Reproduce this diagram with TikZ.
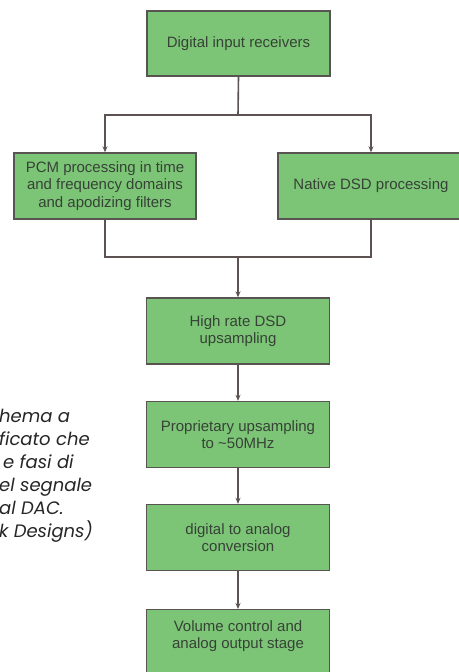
\documentclass[tikz,border=0pt]{standalone}
\usepackage{fontspec}
\setmainfont{Liberation Sans}
\newfontfamily\capfont{Poppins}
\usepackage{xcolor}
\definecolor{boxgreen}{RGB}{124,197,118}
\definecolor{boxedge}{RGB}{88,84,82}
\definecolor{boxtext}{RGB}{55,66,55}
\definecolor{linegray}{RGB}{92,82,82}
\usetikzlibrary{arrows.meta}

\begin{document}
\begin{tikzpicture}[x=1pt, y=-1pt,
  block/.style={draw=boxedge, line width=1.4pt, fill=boxgreen, text=boxtext,
    font=\fontsize{15}{17.5}\selectfont, align=center,
    minimum width=183, minimum height=66, inner sep=0pt},
  arr/.style={draw=linegray, line width=1.6pt, -{Stealth[length=6pt,width=5pt]}},
  wire/.style={draw=linegray, line width=1.6pt}]

% Page frame, same size as the scan
\useasboundingbox[fill=white] (0,0) rectangle (458,672);

% Input stage and the two processing paths
\node[block, minimum height=65] (recv) at (238.5,43.5) {Digital input receivers};
\node[block, minimum width=182] (pcm) at (105,186)
  {PCM processing in time\\and frequency domains\\and apodizing filters};
\node[block, minimum width=186] (dsd) at (371,186) {Native DSD processing};

% Step 1: the vertical chain below the merge
\foreach \name/\ypos/\txt in {
    hrate/331/{High rate DSD\\upsampling},
    prop/434.5/{Proprietary upsampling\\to \textasciitilde50MHz},
    dac/537.5/{digital to analog\\conversion}} {
  \node[block] (\name) at (238,\ypos) {\txt};
}
% last box runs off the bottom of the page
\node[block, anchor=north, inner ysep=11pt, text height=28pt, text depth=45pt] (vol)
  at (238,609) {Volume control and\\analog output stage};

% Step 2: split and merge wires
\coordinate (split) at (238,115);
\coordinate (merge) at (238,257);
\draw[wire] (recv.south) -- (split);
\draw[arr] (split) -| (pcm.north);
\draw[arr] (split) -| (dsd.north);
\draw[wire] (pcm.south) |- (merge) -| (dsd.south);
\draw[arr] (merge) -- (hrate.north);

% Step 3: arrows down the chain
\foreach \a/\b in {hrate/prop, prop/dac, dac/vol} {
  \draw[arr] (\a.south) -- (\b.north);
}

% Caption, cut at the left edge of the scan
\node[anchor=north west, inner sep=0pt, align=left, text=black!85,
  font=\capfont\itshape\fontsize{18}{23}\selectfont] (caption) at (-1,409)
  {hema a\\ficato che\\\hspace*{4pt}e fasi di\\el segnale\\al DAC.\\k Designs)};
\end{tikzpicture}
\end{document}
